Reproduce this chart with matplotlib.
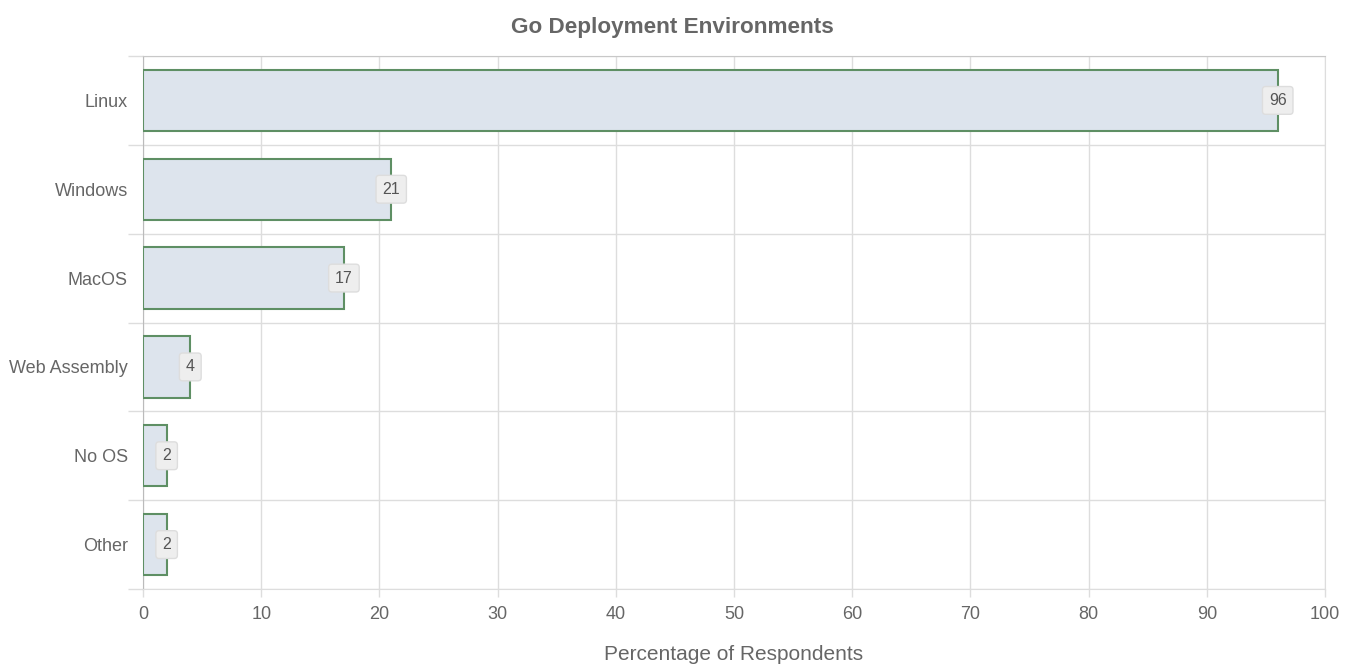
import matplotlib
matplotlib.use("Agg")
import matplotlib.pyplot as plt

categories = ["Linux", "Windows", "MacOS", "Web Assembly", "No OS", "Other"]
values = [96, 21, 17, 4, 2, 2]
xticks = [0, 10, 20, 30, 40, 50, 60, 70, 80, 90, 100]

plt.rcParams['font.family'] = ['Liberation Sans', 'DejaVu Sans']

fig = plt.figure(figsize=(13.45, 6.72), dpi=100)
ax = fig.add_axes([143/1345, 1-589/672, (1325-143)/1345, (589-56)/672])

grid_c = '#dddddd'
text_c = '#666666'

ypos = list(range(len(categories)))
ax.barh(ypos, values, height=0.69, color='#dde4ed', edgecolor='#5e8f64', linewidth=1.5, zorder=3)

for y, v in zip(ypos, values):
    ax.text(v, y, str(v), ha='center', va='center', fontsize=11.5, color='#555555', zorder=5,
            bbox=dict(boxstyle='round,pad=0.4,rounding_size=0.2', fc='#eeeeee', ec='#dddddd', lw=1))

ax.set_xlim(0, 100)
ax.set_ylim(len(categories) - 0.5, -0.5)
ax.set_xticks(xticks)
ax.set_xticklabels([str(t) for t in xticks], fontsize=13, color=text_c)
ax.set_yticks(ypos)
ax.set_yticklabels(categories, fontsize=13, color=text_c)
ax.set_yticks([i - 0.5 for i in range(len(categories) + 1)], minor=True)

ax.tick_params(axis='y', which='major', length=0, pad=11)
ax.tick_params(axis='y', which='minor', length=11, color=grid_c, width=1)
ax.tick_params(axis='x', which='major', length=6, color=grid_c, width=1, pad=6)

ax.grid(True, axis='x', which='major', color=grid_c, lw=1, zorder=0)
ax.grid(True, axis='y', which='minor', color=grid_c, lw=1, zorder=0)
ax.grid(False, axis='y', which='major')
ax.set_axisbelow(True)

for s in ['top', 'bottom', 'right']:
    ax.spines[s].set_color(grid_c)
ax.spines['left'].set_color('#bbbbbb')
ax.spines['left'].set_bounds(len(categories) - 0.5, -0.5)
ax.spines['top'].set_color('#c8c8c8')

ax.set_xlabel('Percentage of Respondents', fontsize=15, color=text_c, labelpad=16)
fig.text(0.5, 1-28/672, 'Go Deployment Environments', ha='center', va='center',
         fontsize=16.2, fontweight='bold', color=text_c)

fig.savefig('out.png', dpi=100)
